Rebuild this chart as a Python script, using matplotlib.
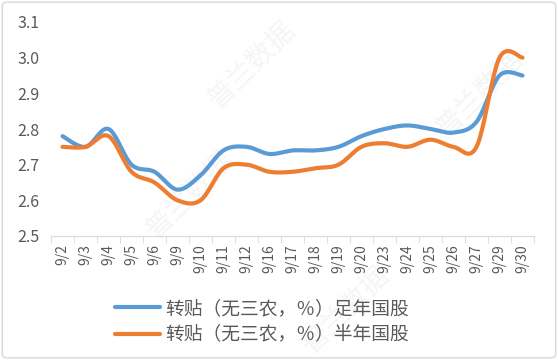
import numpy as np
import matplotlib.pyplot as plt
from matplotlib.patches import FancyBboxPatch

plt.rcParams['font.family'] = ['Noto Sans CJK SC', 'DejaVu Sans']

dates = ["9/2", "9/3", "9/4", "9/5", "9/6", "9/9", "9/10", "9/11", "9/12", "9/16", "9/17",
         "9/18", "9/19", "9/20", "9/23", "9/24", "9/25", "9/26", "9/27", "9/29", "9/30"]
full_year = [2.78, 2.75, 2.80, 2.70, 2.68, 2.63, 2.67, 2.74, 2.75, 2.73, 2.74,
             2.74, 2.75, 2.78, 2.80, 2.81, 2.80, 2.79, 2.82, 2.95, 2.95]
half_year = [2.75, 2.75, 2.78, 2.68, 2.65, 2.60, 2.60, 2.69, 2.70, 2.68, 2.68,
             2.69, 2.70, 2.75, 2.76, 2.75, 2.77, 2.75, 2.75, 3.00, 3.00]
labels = ["转贴（无三农，％）足年国股", "转贴（无三农，％）半年国股"]
colors = ["#5B9BD5", "#ED7D31"]


def smooth(x, y, n=20, tension=0.5):
    # Catmull-Rom style curve through the points, like Excel's smoothed line
    x = np.asarray(x, float)
    y = np.asarray(y, float)
    px = np.concatenate([[x[0]], x, [x[-1]]])
    py = np.concatenate([[y[0]], y, [y[-1]]])
    xs, ys = [], []
    t = np.linspace(0, 1, n, endpoint=False)
    for i in range(1, len(px) - 2):
        p0, p1, p2, p3 = (np.array([px[j], py[j]]) for j in (i - 1, i, i + 1, i + 2))
        c1 = p1 + (p2 - p0) * tension / 3
        c2 = p2 - (p3 - p1) * tension / 3
        pts = ((1 - t) ** 3)[:, None] * p1 + (3 * (1 - t) ** 2 * t)[:, None] * c1 \
            + (3 * (1 - t) * t ** 2)[:, None] * c2 + (t ** 3)[:, None] * p2
        xs.extend(pts[:, 0])
        ys.extend(pts[:, 1])
    xs.append(x[-1])
    ys.append(y[-1])
    return xs, ys


fig = plt.figure(figsize=(5.58, 3.6), dpi=100)
ax = fig.add_axes([51 / 558, 1 - 236 / 360, 483 / 558, 214 / 360])

# faint watermark, kept behind everything
for (wx, wy) in [(0.45, 0.82), (0.86, 0.74), (0.34, 0.46), (0.62, 0.14)]:
    fig.text(wx, wy, "普兰数据", rotation=45, fontsize=20, color="#f5f5f5",
             ha="center", va="center", zorder=-5)

x = np.arange(len(dates))
for vals, lab, col in zip([full_year, half_year], labels, colors):
    sx, sy = smooth(x, vals)
    ax.plot(sx, sy, color=col, lw=3, label=lab, solid_capstyle="round", zorder=3)

ax.set_xlim(-0.5, len(dates) - 0.5)
ax.set_ylim(2.5, 3.1)
ax.set_yticks(np.arange(2.5, 3.11, 0.1))
ax.set_yticklabels([f"{v:.1f}" for v in np.arange(2.5, 3.11, 0.1)])
ax.set_xticks(x)
ax.set_xticklabels(dates, rotation=90)
ax.set_xticks(np.arange(-0.5, len(dates), 1), minor=True)
ax.tick_params(axis="x", which="major", length=0, labelsize=10, colors="#595959", pad=6)
ax.tick_params(axis="x", which="minor", length=5, color="#d9d9d9")
ax.tick_params(axis="y", length=0, labelsize=11.5, colors="#595959", pad=8)
for s in ["top", "right", "left"]:
    ax.spines[s].set_visible(False)
ax.spines["bottom"].set_color("#d9d9d9")
ax.patch.set_alpha(0)

leg = fig.legend(loc="upper left", bbox_to_anchor=(98 / 558, 1 - 281 / 360), frameon=False,
                 fontsize=13.5, handlelength=2.4, handletextpad=0.3, labelspacing=0.3,
                 labelcolor="#595959")

fig.patches.append(FancyBboxPatch((0.004, 0.006), 0.992, 0.988, boxstyle="round,pad=0,rounding_size=0.01",
                                  transform=fig.transFigure, fill=False, ec="#d9d9d9", lw=1))

fig.savefig("out.png", dpi=100)
